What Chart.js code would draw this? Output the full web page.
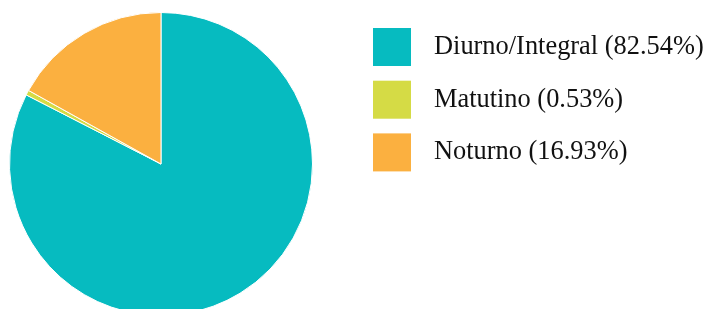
<!DOCTYPE html>
<html>
<head>
<meta charset="utf-8">
<script src="https://cdn.jsdelivr.net/npm/chart.js@4"></script>
<style>
  html, body {
    margin: 0;
    padding: 0;
    width: 707px;
    height: 309px;
    overflow: hidden;
    background: #ffffff;
  }
  .chart-box {
    position: relative;
    width: 707px;
    height: 330px;
  }
</style>
</head>
<body>
<div class="chart-box"><canvas id="turnoChart"></canvas></div>

<script>
const turnos = ["Diurno/Integral", "Matutino", "Noturno"];
const percentuais = [82.54, 0.53, 16.93];
const cores = ["#06bbc0", "#d5db45", "#fbb040"];

// legenda desenhada no próprio canvas, a partir dos rótulos do gráfico
const legendaLateral = {
  id: "legendaLateral",
  afterDraw(chart, args, opts) {
    const ctx = chart.ctx;
    const itens = chart.options.plugins.legend.labels.generateLabels(chart);

    ctx.save();
    ctx.font = `${opts.fontSize}px ${opts.fontFamily}`;
    ctx.textBaseline = "alphabetic";
    ctx.textAlign = "left";

    itens.forEach((item, i) => {
      const y = opts.top + i * opts.step;
      ctx.fillStyle = item.fillStyle;
      ctx.fillRect(opts.left, y, opts.box, opts.box);

      ctx.fillStyle = "#111111";
      ctx.fillText(
        `${item.text} (${percentuais[item.index].toFixed(2)}%)`,
        opts.left + opts.box + opts.gap,
        y + opts.baseline,
      );
    });
    ctx.restore();
  },
};

new Chart(document.getElementById("turnoChart"), {
  type: "pie",
  data: {
    labels: turnos,
    datasets: [
      {
        data: percentuais,
        backgroundColor: cores,
        borderColor: "#ffffff",
        borderWidth: 1,
      },
    ],
  },
  options: {
    responsive: true,
    maintainAspectRatio: false,
    animation: false,
    layout: {
      padding: { left: 9, top: 12, right: 394, bottom: 14 },
    },
    plugins: {
      legend: { display: false },
      tooltip: { enabled: false },
      legendaLateral: {
        left: 373,
        top: 28,
        step: 52.7,
        box: 38,
        gap: 23,
        baseline: 26,
        fontSize: 26.4,
        fontFamily: "'Liberation Serif', serif",
      },
    },
  },
  plugins: [legendaLateral],
});
</script>
</body>
</html>
